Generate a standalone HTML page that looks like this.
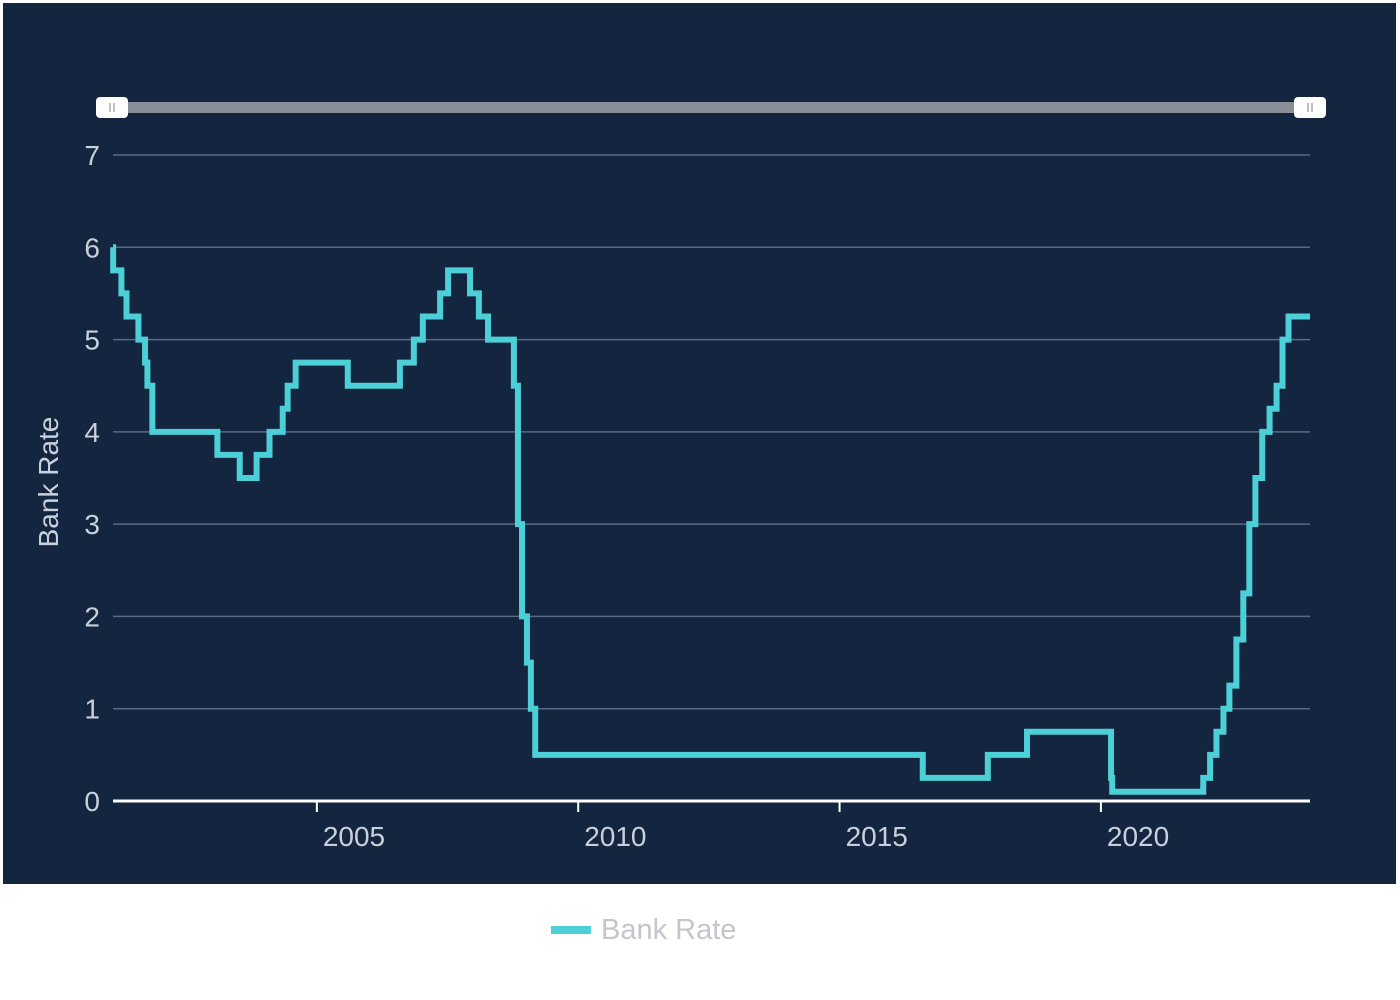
<!DOCTYPE html>
<html><head><meta charset="utf-8"><style>
html,body{margin:0;padding:0;background:#fff;width:1400px;height:1000px;overflow:hidden}
svg{display:block;font-family:"Liberation Sans",Arial,sans-serif}
</style></head><body>
<svg id="chart" width="1400" height="1000">
<rect x="3" y="3" width="1393" height="881" fill="#13253f"/>
<g>
<rect x="112" y="102" width="1198" height="11" fill="#8a8e98"/>
<rect x="96" y="97" width="32" height="21" rx="4" fill="#fff"/>
<line x1="110" y1="103" x2="110" y2="112" stroke="#aaa" stroke-width="1.5"/><line x1="114" y1="103" x2="114" y2="112" stroke="#aaa" stroke-width="1.5"/>
<rect x="1294" y="97" width="32" height="21" rx="4" fill="#fff"/>
<line x1="1308" y1="103" x2="1308" y2="112" stroke="#aaa" stroke-width="1.5"/><line x1="1312" y1="103" x2="1312" y2="112" stroke="#aaa" stroke-width="1.5"/>
</g>
<g id="grid"></g><g id="yl"></g><g id="xl"></g><g id="series"></g>
<text x="0" y="0" transform="translate(58,482) rotate(-90)" text-anchor="middle" font-size="28" fill="#c8d0dc">Bank Rate</text>
<g>
<line x1="551" y1="930" x2="591" y2="930" stroke="#4ccfd6" stroke-width="8"/>
<text x="601" y="939" font-size="29" fill="#c4c6cc">Bank Rate</text>
</g>
</svg>
<script>
const dates=["2001-01-01","2001-02-08","2001-04-05","2001-05-10","2001-08-02","2001-09-18","2001-10-04","2001-11-08","2003-02-06","2003-07-10","2003-11-06","2004-02-05","2004-05-06","2004-06-10","2004-08-05","2005-08-04","2006-08-03","2006-11-09","2007-01-11","2007-05-10","2007-07-05","2007-12-06","2008-02-07","2008-04-10","2008-10-08","2008-11-06","2008-12-04","2009-01-08","2009-02-05","2009-03-05","2016-08-04","2017-11-02","2018-08-02","2020-03-11","2020-03-19","2021-12-16","2022-02-03","2022-03-17","2022-05-05","2022-06-16","2022-08-04","2022-09-22","2022-11-03","2022-12-15","2023-02-02","2023-03-23","2023-05-11","2023-06-22","2023-08-03"];
const rates=[6,5.75,5.5,5.25,5,4.75,4.5,4,3.75,3.5,3.75,4,4.25,4.5,4.75,4.5,4.75,5,5.25,5.5,5.75,5.5,5.25,5,4.5,3,2,1.5,1,0.5,0.25,0.5,0.75,0.25,0.1,0.25,0.5,0.75,1,1.25,1.75,2.25,3,3.5,4,4.25,4.5,5,5.25];
const yTicks=[0,1,2,3,4,5,6,7];
const xTicks=[2005,2010,2015,2020];
const X0=113,X1=1310,T0=2001.1,T1=2024.0;
function yr(d){const p=d.split('-').map(Number);return p[0]+((p[1]-1)*30.44+p[2]-1)/365.25;}
function x(t){return Math.min(X1,Math.max(X0,X0+(t-T0)/(T1-T0)*(X1-X0)));}
function y(v){return 801-v*(801-155)/7;}
const NS="http://www.w3.org/2000/svg";
function mk(tag,attrs,parent,text){const e=document.createElementNS(NS,tag);for(const k in attrs)e.setAttribute(k,attrs[k]);if(text!==undefined)e.textContent=text;document.getElementById(parent).appendChild(e);return e;}
yTicks.forEach(v=>{
 if(v>0){const g=mk('line',{x1:X0,x2:X1,y1:y(v),y2:y(v),stroke:'#5a6a82','stroke-width':1.5},'grid');
 
 }
 const t=mk('text',{x:100,y:y(v)+10,'text-anchor':'end','font-size':28,fill:'#c8d0dc'},'yl',String(v));
 
 
});
const ax=mk('line',{x1:X0,x2:X1,y1:801,y2:801,stroke:'#fff','stroke-width':3},'grid');


xTicks.forEach(v=>{
 const xx=x(v);
 const tk=mk('line',{x1:xx,x2:xx,y1:801,y2:812,stroke:'#fff','stroke-width':2},'xl');
 
 
 const t=mk('text',{x:xx+6,y:846,'font-size':28,fill:'#c8d0dc'},'xl',String(v));
 
 
});
let d='';
dates.forEach((dt,i)=>{const xx=x(yr(dt)),yy=y(rates[i]);d+=(i===0?'M'+X0+' '+yy:' H'+xx+' V'+yy);});
d+=' H'+X1;
const p=mk('path',{d:d,fill:'none',stroke:'#4ccfd6','stroke-width':6,'stroke-linejoin':'miter'},'series');


</script>
</body></html>
